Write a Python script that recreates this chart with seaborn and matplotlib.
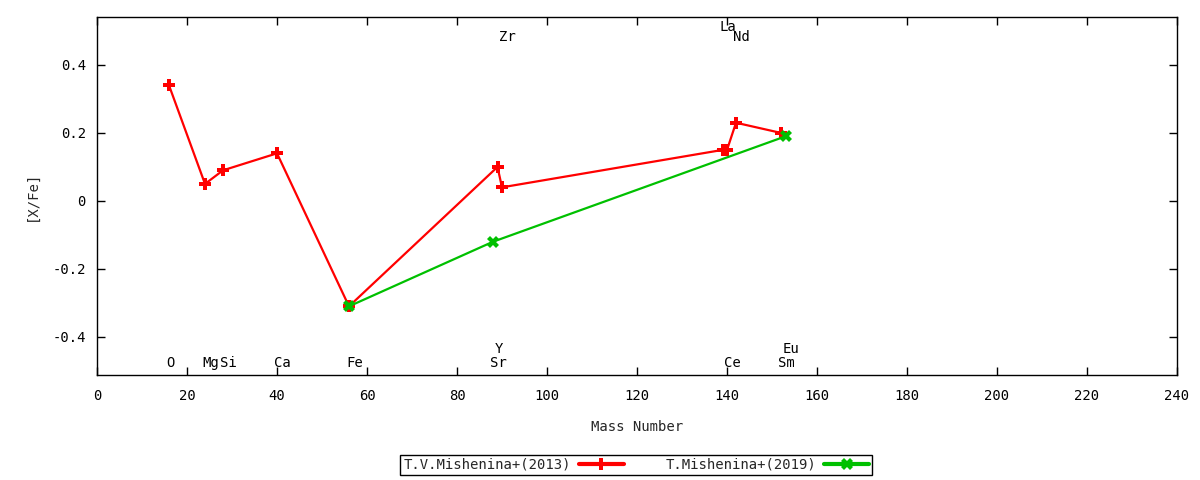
import numpy as np
import pandas as pd
import seaborn as sns
import matplotlib.pyplot as plt

# Data
red_label = 'T.V.Mishenina+(2013)'
red_mass = [16, 24, 28, 40, 56, 89, 90, 139, 140, 142, 152]
red_xfe = [0.34, 0.05, 0.09, 0.14, -0.31, 0.10, 0.04, 0.15, 0.15, 0.23, 0.20]

green_label = 'T.Mishenina+(2019)'
green_mass = [56, 88, 153]
green_xfe = [-0.31, -0.12, 0.19]

# element labels: name, mass, height in the plot
elements = ['O', 'Mg', 'Si', 'Ca', 'Fe', 'Sr', 'Y', 'Zr', 'La', 'Ce', 'Nd', 'Sm', 'Eu']
element_mass = [16, 24, 28, 40, 56, 88, 89, 90, 139, 140, 142, 152, 153]
element_y = [-0.476, -0.476, -0.476, -0.476, -0.476, -0.476, -0.435, 0.482,
             0.512, -0.476, 0.482, -0.476, -0.435]

xticks = list(range(0, 241, 20))
yticks = [-0.4, -0.2, 0, 0.2, 0.4]
ytick_labels = ['-0.4', '-0.2', '0', '0.2', '0.4']

red_df = pd.DataFrame({'mass': red_mass, 'xfe': red_xfe})
green_df = pd.DataFrame({'mass': green_mass, 'xfe': green_xfe})

sns.set_style('ticks')
plt.rcParams['font.family'] = ['DejaVu Sans Mono', 'DejaVu Sans']
plt.rcParams['font.size'] = 10

fig = plt.figure(figsize=(12, 4.8), dpi=100)
ax = fig.add_axes([97 / 1200, 1 - 375 / 480, 1080 / 1200, 358 / 480])

sns.lineplot(data=red_df, x='mass', y='xfe', ax=ax, sort=False, color='#ff0000',
             lw=1.6, marker='P', markersize=9, markeredgewidth=0, label=red_label)
sns.lineplot(data=green_df, x='mass', y='xfe', ax=ax, sort=False, color='#00c000',
             lw=1.6, marker='X', markersize=9, markeredgewidth=0, label=green_label)

for name, m, yy in zip(elements, element_mass, element_y):
    ax.text(m - 0.6, yy, name, ha='left', va='center', fontsize=10, color='black')

ax.set_xlim(0, 240)
ax.set_ylim(-0.512, 0.541)
ax.set_xticks(xticks)
ax.set_yticks(yticks)
ax.set_yticklabels(ytick_labels)
ax.tick_params(direction='in', top=True, right=True, length=6, width=1,
               labelsize=10, colors='black')
ax.tick_params(axis='x', pad=10)
ax.tick_params(axis='y', pad=8)
for s in ax.spines.values():
    s.set_color('black')
    s.set_linewidth(1)

ax.set_xlabel('Mass Number', fontsize=10, labelpad=12)
ax.set_ylabel('[X/Fe]', fontsize=10, labelpad=10)

ax.get_legend().remove()
handles, labels = ax.get_legend_handles_labels()
leg = fig.legend(handles, labels, loc='center', bbox_to_anchor=(636 / 1200, 1 - 465 / 480),
                 ncol=2, markerfirst=False, frameon=True, fancybox=False,
                 edgecolor='black', framealpha=1, fontsize=10, handlelength=3.2,
                 columnspacing=3.0, borderpad=0.2, handletextpad=0.6)
leg.get_frame().set_linewidth(1)
for ln in leg.get_lines():
    ln.set_linewidth(3)

fig.savefig('out.png', dpi=100)
